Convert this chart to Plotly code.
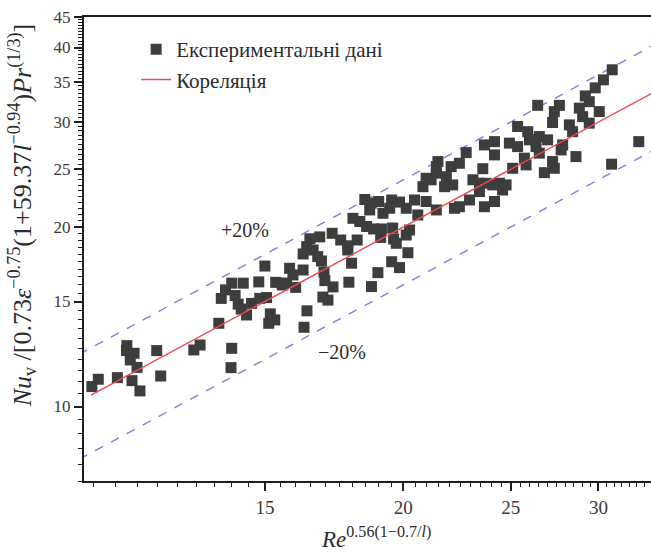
import numpy as np
import plotly.graph_objects as go

# Experimental points: reduced Reynolds group vs reduced Nusselt group
re_group = [
    10.47, 10.61, 11.04, 11.26, 11.25, 11.43, 11.34, 11.50, 11.38, 11.57,
    11.98, 12.08, 12.94, 13.11, 13.63, 14.00, 13.98, 13.70, 13.82, 14.00,
    14.10, 14.19, 14.28, 14.44, 14.34, 14.59, 14.84, 15.05, 14.81, 15.17,
    15.31, 15.12, 15.34, 15.55, 15.69, 15.99, 16.27, 16.37, 16.92, 17.10,
    17.28, 17.86, 16.99, 15.00, 15.79, 15.90, 16.96, 16.47, 16.81, 16.36,
    16.58, 16.24, 16.74, 16.87, 16.24, 17.25, 17.56, 17.82, 18.17, 17.82,
    17.96, 18.72, 18.97, 19.52, 19.84, 20.19, 18.46, 18.71, 19.00, 19.52,
    19.84, 19.44, 18.01, 18.27, 18.53, 18.80, 19.11, 19.56, 19.60, 19.08,
    18.65, 19.17, 19.71, 20.12, 20.26, 20.12, 20.61, 20.47, 20.97, 21.42,
    26.44, 27.66, 27.37, 28.83, 29.43, 30.05, 29.03, 29.43, 27.27, 28.24,
    28.43, 25.36, 25.90, 26.53, 26.99, 25.99, 24.93, 25.36, 26.35, 26.53,
    27.85, 27.76, 28.63, 25.72, 25.81, 25.10, 27.27, 27.37, 26.81, 32.62,
    30.83, 23.67, 24.17, 24.17, 22.79, 23.59, 22.47, 22.09, 21.49, 21.42,
    21.42, 21.87, 21.79, 22.16, 20.97, 20.83, 21.19, 23.11, 23.43, 23.43,
    23.75, 24.08, 24.42, 24.76, 24.58, 22.95, 22.47, 22.24, 23.67, 24.17,
    30.87, 30.31, 29.80, 29.19,
]
nu_group = [
    10.80, 11.11, 11.18, 12.65, 12.41, 12.28, 11.97, 11.63, 11.05, 10.62,
    12.41, 11.25, 12.44, 12.68, 13.79, 12.52, 11.62, 15.18, 15.69, 16.10,
    15.35, 14.85, 14.57, 14.24, 16.10, 14.89, 15.18, 15.23, 16.18, 14.30,
    13.97, 13.79, 16.15, 15.99, 16.11, 15.84, 13.58, 14.47, 15.26, 15.08,
    15.87, 16.16, 16.26, 17.20, 17.05, 16.62, 16.81, 19.11, 19.25, 18.54,
    18.30, 18.02, 17.84, 17.54, 16.94, 19.52, 19.02, 18.60, 19.02, 18.30,
    17.39, 15.89, 16.77, 17.49, 17.10, 18.11, 22.24, 21.93, 22.07, 22.20,
    22.02, 21.50, 20.68, 20.43, 20.04, 19.85, 19.85, 19.92, 19.09, 19.21,
    21.36, 21.09, 18.78, 21.50, 19.77, 19.39, 20.95, 22.20, 22.07, 21.36,
    31.99, 31.99, 31.23, 31.65, 32.45, 31.23, 30.63, 29.87, 29.94, 29.67,
    28.90, 29.48, 28.90, 28.36, 28.00, 28.00, 27.65, 27.28, 27.28, 26.60,
    27.46, 26.93, 26.25, 26.09, 25.42, 25.09, 25.75, 25.09, 24.67, 27.81,
    25.49, 27.46, 27.81, 26.42, 26.66, 25.05, 25.58, 25.25, 25.75, 25.25,
    24.62, 24.29, 23.37, 23.53, 24.14, 23.37, 24.00, 24.00, 23.68, 22.93,
    23.68, 23.53, 23.68, 23.53, 23.07, 22.20, 21.63, 21.50, 21.63, 22.07,
    36.70, 35.30, 34.23, 33.18,
]

# Correlation Nu* = Re*, with a +/-20 % band
fit_x = np.array([10.45, 33.6])
band_x = np.array([10.2, 33.6])
band = 0.20

x_major = [15, 20, 25, 30]
y_major = [10, 15, 20, 25, 30, 35, 40, 45]
x_minor = [v for v in np.arange(10.5, 33.6, 0.5) if v not in x_major]
y_minor = [v for v in np.arange(7.5, 45.1, 0.5) if v not in y_major]

serif = "Liberation Serif"
ink = "#2b2b2b"

fig = go.Figure()

fig.add_trace(go.Scatter(
    x=band_x, y=band_x * (1 + band), mode="lines", showlegend=False,
    line=dict(color="#7f7fe6", width=1.4, dash="dash"), hoverinfo="skip",
))
fig.add_trace(go.Scatter(
    x=band_x, y=band_x * (1 - band), mode="lines", showlegend=False,
    line=dict(color="#7f7fe6", width=1.4, dash="dash"), hoverinfo="skip",
))
fig.add_trace(go.Scatter(
    x=re_group, y=nu_group, mode="markers", name="Експериментальні дані",
    marker=dict(symbol="square", size=11, color="#3d3d3d", line=dict(width=0)),
))
fig.add_trace(go.Scatter(
    x=fit_x, y=fit_x, mode="lines", name="Кореляція",
    line=dict(color="#ec4a52", width=1.4),
))

fig.add_annotation(x=np.log10(14.39), y=np.log10(19.77), text="+20%",
                   showarrow=False, font=dict(family=serif, size=20, color=ink))
fig.add_annotation(x=np.log10(17.61), y=np.log10(12.34), text="−20%",
                   showarrow=False, font=dict(family=serif, size=20, color=ink))

# axis titles placed as annotations
fig.add_annotation(
    xref="paper", yref="paper", x=-0.109, y=0.573, textangle=-90,
    xanchor="center", yanchor="middle", showarrow=False,
    text="<i>Nu</i><sub>v</sub> /[0.73<i>ε</i><sup>−0.75</sup>(1+59.37<i>l</i>"
         "<sup>−0.94</sup>)<i>Pr</i><sup>(1/3)</sup>]",
    font=dict(family=serif, size=26, color=ink),
)
fig.add_annotation(
    xref="paper", yref="paper", x=0.515, y=-0.121,
    xanchor="center", yanchor="middle", showarrow=False,
    text="<i>Re</i><sup>0.56(1−0.7/<i>l</i>)</sup>",
    font=dict(family=serif, size=23, color=ink),
)

axis_common = dict(
    type="log", showgrid=False, zeroline=False,
    showline=True, linecolor="#1e1e1e", linewidth=2,
    ticks="outside", ticklen=8, tickwidth=1.5, tickcolor="#1e1e1e",
)

fig.update_xaxes(
    **axis_common,
    range=[np.log10(10.3), np.log10(33.46)],
    tickmode="array", tickvals=x_major, ticktext=[str(v) for v in x_major],
    tickfont=dict(family=serif, size=19, color="#3a3a3a"),
    mirror=True,
    minor=dict(tickmode="array", tickvals=x_minor, ticks="outside",
               ticklen=4, tickwidth=1.2, tickcolor="#1e1e1e"),
)
fig.update_yaxes(
    **axis_common,
    range=[np.log10(7.5), np.log10(45)],
    tickmode="array", tickvals=y_major, ticktext=[str(v) for v in y_major],
    tickfont=dict(family=serif, size=17, color="#3a3a3a"),
    minor=dict(tickmode="array", tickvals=y_minor, ticks="outside",
               ticklen=4, tickwidth=1.2, tickcolor="#1e1e1e"),
)

fig.update_layout(
    width=651, height=554,
    margin=dict(l=84, r=0, t=17, b=73),
    paper_bgcolor="white", plot_bgcolor="white",
    font=dict(family=serif),
    legend=dict(x=0.092, y=0.974, xanchor="left", yanchor="top",
                bgcolor="rgba(0,0,0,0)",
                font=dict(family=serif, size=21, color=ink)),
)

fig.write_html("out.html")
